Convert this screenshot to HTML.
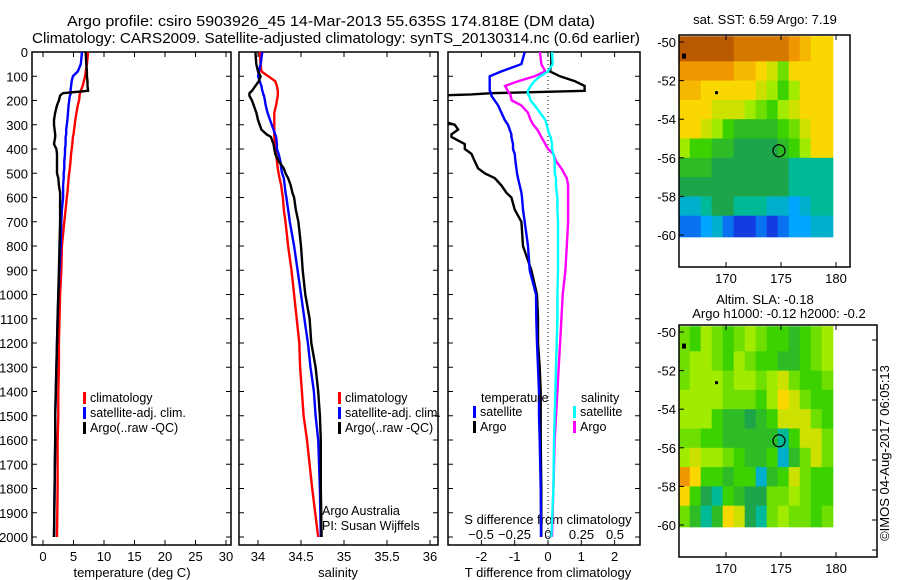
<!DOCTYPE html>
<html><head><meta charset="utf-8"><style>
body{margin:0;background:#fff}
svg{display:block;font-family:"Liberation Sans",sans-serif}
</style></head><body>
<svg id="chart" width="900" height="580" viewBox="0 0 900 580">
<rect width="900" height="580" fill="#fff"/>
<text x="67" y="26" font-size="15" textLength="528" lengthAdjust="spacingAndGlyphs">Argo profile: csiro 5903926_45 14-Mar-2013 55.635S 174.818E (DM data)</text>
<text x="32" y="43" font-size="15" textLength="608" lengthAdjust="spacingAndGlyphs">Climatology: CARS2009. Satellite-adjusted climatology: synTS_20130314.nc (0.6d earlier)</text>
<g id="g"></g>
</svg>
<script>
// ---------- data ----------
const depths=[0,50,80,100,120,140,160,170,175,180,200,220,250,280,300,320,340,350,380,400,420,450,480,500,520,550,580,600,650,700,800,900,1000,1100,1200,1300,1400,1500,1600,1800,2000];
const tempClim=[7.4,7.2,7.0,6.9,6.7,6.5,6.2,6.1,6.0,6.0,5.9,5.7,5.5,5.3,5.2,5.1,5.0,4.9,4.8,4.7,4.6,4.5,4.4,4.3,4.2,4.1,4.0,3.9,3.7,3.5,3.1,3.0,2.8,2.7,2.6,2.6,2.5,2.5,2.4,2.4,2.3];
const tempSat=[6.4,6.2,5.7,4.9,4.7,4.6,4.5,4.5,4.5,4.4,4.3,4.2,4.1,4.0,3.9,3.8,3.8,3.7,3.7,3.6,3.6,3.5,3.5,3.4,3.4,3.3,3.3,3.3,3.1,3.0,2.9,2.7,2.5,2.4,2.3,2.2,2.1,2.0,2.0,1.9,1.8];
const tempArgo=[7.0,7.1,7.2,7.2,7.3,7.3,7.4,3.3,3.0,2.8,2.6,2.3,2.0,1.8,1.8,1.9,2.0,2.0,1.8,2.2,2.3,2.3,2.3,2.3,2.5,2.6,2.8,2.8,2.8,2.8,2.7,2.6,2.5,2.4,2.3,2.2,2.1,2.0,2.0,1.9,1.8];
const salClim=[34.02,34.03,34.04,34.12,34.2,34.22,34.23,34.23,34.23,34.23,34.22,34.21,34.19,34.19,34.19,34.19,34.19,34.19,34.2,34.2,34.21,34.22,34.23,34.24,34.25,34.27,34.28,34.29,34.3,34.32,34.35,34.39,34.42,34.45,34.48,34.49,34.51,34.53,34.57,34.63,34.7];
const salSat=[34.05,34.03,34.01,34.0,34.02,34.04,34.05,34.06,34.06,34.07,34.08,34.09,34.11,34.14,34.16,34.18,34.2,34.21,34.22,34.22,34.24,34.26,34.27,34.28,34.3,34.31,34.32,34.33,34.35,34.37,34.42,34.46,34.5,34.54,34.58,34.61,34.65,34.67,34.7,34.72,34.73];
const salArgo=[33.97,33.98,34.0,34.03,34.01,33.97,33.93,33.9,33.9,33.9,33.93,33.95,33.98,34.0,34.02,34.04,34.1,34.15,34.18,34.19,34.2,34.24,34.3,34.32,34.35,34.38,34.4,34.42,34.44,34.47,34.5,34.52,34.55,34.6,34.62,34.67,34.7,34.72,34.73,34.73,34.74];
const dTSat=[-0.7,-0.8,-1.4,-1.75,-1.75,-1.75,-1.75,-1.7,-1.7,-1.7,-1.6,-1.5,-1.4,-1.3,-1.2,-1.15,-1.1,-1.1,-1.05,-1.05,-1.0,-0.98,-0.95,-0.93,-0.9,-0.85,-0.8,-0.78,-0.75,-0.7,-0.6,-0.55,-0.36,-0.35,-0.33,-0.3,-0.27,-0.27,-0.25,-0.22,-0.21];
const dTArgo=[0.1,0.1,0.06,0.36,0.8,1.1,1.1,-1.7,-2.3,-3.5,-3.5,-3.5,-3.5,-3.3,-2.8,-2.7,-2.9,-2.9,-2.5,-2.5,-2.3,-2.2,-2.1,-1.9,-1.6,-1.4,-1.25,-1.1,-1.0,-0.8,-0.75,-0.5,-0.33,-0.3,-0.3,-0.25,-0.22,-0.22,-0.22,-0.2,-0.2];
const dSSat=[0.03,0.035,0.0,-0.06,-0.1,-0.13,-0.15,-0.15,-0.15,-0.14,-0.13,-0.1,-0.06,-0.02,-0.01,0.0,0.01,0.02,0.03,0.03,0.04,0.05,0.05,0.05,0.06,0.06,0.065,0.07,0.07,0.075,0.075,0.075,0.07,0.07,0.065,0.06,0.055,0.05,0.045,0.04,0.025];
const dSArgo=[-0.06,-0.05,-0.02,-0.1,-0.22,-0.32,-0.3,-0.29,-0.28,-0.28,-0.27,-0.2,-0.15,-0.13,-0.11,-0.08,-0.06,-0.05,-0.02,0.0,0.04,0.06,0.1,0.12,0.14,0.15,0.15,0.15,0.15,0.15,0.14,0.13,0.11,0.1,0.09,0.08,0.07,0.06,0.05,0.04,0.03];
const depthTicks=[0,100,200,300,400,500,600,700,800,900,1000,1100,1200,1300,1400,1500,1600,1700,1800,1900,2000];
const tempTicks=[0,5,10,15,20,25,30];
const salTicks=[34,34.5,35,35.5,36];
const dTTicks=[-2,-1,0,1,2];
const dSTicks=[-0.5,-0.25,0,0.25,0.5];
const mapLons=[166,167,168,169,170,171,172,173,174,175,176,177,178,179];
const mapLats=[-50,-51,-52,-53,-54,-55,-56,-57,-58,-59];
const sstGrid=[
[9,9,9,9,9,8.5,8.5,8.5,8.5,8.5,8,7.5,7,7],
[8,8,8,8,8,7.5,7.5,7,6.5,5.5,7,7,7,7],
[7.5,7.5,7,7,7,7,7,6.5,6,5,6,7,7,7],
[7,7,7,6.5,6.5,6.5,6,5.5,5,6,6.5,7,7,7],
[7,7,6.5,6,5,4.5,4.5,4.5,4.5,5,5.5,6.5,7,7],
[6,5,5,4.5,4.5,4,4,4,4,4.5,5,6,7,7],
[4.5,4.5,4.5,4,4,4,4,4,4,4,3.5,3.5,3.5,3.5],
[4,4,4,4,4,4,4,4,4,4,3.5,3.5,3.5,3.5],
[3,3,3.5,4,4,3.5,3.5,3.5,3,3,2.5,3,3.5,3.5],
[2,2,2.5,3,2,1.5,1.5,2,1.5,2,2.5,2.5,3,3]];
const slaGrid=[
[5.5,5,6,5.5,5,5.5,6,5.5,5,5,4.5,5,5.5,6],
[5.5,6,6,5.5,5,6,5.5,5,5,4.5,4.5,5,5.5,6],
[5.5,6,6,6,5.5,6,6,5.5,6,6.5,5.5,5,5,5.5],
[6,6,6,6,5.5,5.5,5.5,5,6,7,6.5,5.5,5,5],
[6,6,6,5,4.5,4.5,4,4.5,5,6.5,6.5,6.5,5.5,5],
[5.5,5.5,5,5,4.5,4.5,4.5,4.5,4.5,3.5,5,6.5,6.5,5.5],
[6,6.5,6,6,5.5,5,4.5,4.5,5,3,4.5,5.5,6.5,5.5],
[8,7,5,5,4.5,5,5,3,4.5,5,6.5,5.5,5,5],
[7,5,4,3.5,5,4.5,4,4,5.5,5.5,6,5.5,5,5],
[5.5,4.5,3.5,4.5,7,6.5,4,3.5,5.5,6,5.5,5.5,5,5.5]];
const mapLatTicks=[-50,-52,-54,-56,-58,-60];
const mapLonTicks=[170,175,180];
const argoLon=174.818, argoLat=-55.635;

// ---------- drawing ----------
const NS="http://www.w3.org/2000/svg";
const G=document.getElementById('g');
function el(tag,attrs,parent){const e=document.createElementNS(NS,tag);for(const k in attrs)e.setAttribute(k,attrs[k]);(parent||G).appendChild(e);return e;}
function txt(s,attrs,parent){const e=el('text',attrs,parent);e.textContent=s;return e;}
const yD=d=>52+0.2425*d;
const TOP=52,BOT=545;
const panels=[
 {x0:32,x1:231,sx:v=>43+6.1*v,name:'temperature'},
 {x0:239,x1:438,sx:v=>258+86*(v-34),name:'salinity'},
 {x0:448,x1:640,sx:v=>548+33.3*v,name:'difference'}];
const sxS=v=>548+134*v;
panels.forEach((p,i)=>{
 const cp=el('clipPath',{id:'clip'+i});
 el('rect',{x:p.x0,y:TOP,width:p.x1-p.x0,height:BOT-TOP},cp);
 const fr=el('rect',{x:p.x0,y:TOP,width:p.x1-p.x0,height:BOT-TOP,fill:'none',stroke:'#000','stroke-width':1.5});
 
 
 depthTicks.forEach(d=>{
  el('line',{x1:p.x0,x2:p.x0+5,y1:yD(d),y2:yD(d),stroke:'#000'});
  el('line',{x1:p.x1,x2:p.x1-5,y1:yD(d),y2:yD(d),stroke:'#000'});
 });
});
depthTicks.forEach(d=>{
 const t=txt(String(d),{x:28,y:yD(d)+5,'font-size':13,'text-anchor':'end'});
 
 
});
function xticks(p,ticks,sx,ylab,fmt){
 ticks.forEach(v=>{
  const x=sx(v);
  el('line',{x1:x,x2:x,y1:BOT,y2:BOT-5,stroke:'#000'});
  el('line',{x1:x,x2:x,y1:TOP,y2:TOP+5,stroke:'#000'});
  const t=txt(fmt?fmt(v):String(v),{x:x,y:ylab,'font-size':13,'text-anchor':'middle'});
  
  
 });
}
xticks(panels[0],tempTicks,panels[0].sx,561);
xticks(panels[1],salTicks,panels[1].sx,561);
xticks(panels[2],dTTicks,panels[2].sx,561);
dSTicks.forEach(v=>{
 const t=txt(v<0?'\u2212'+Math.abs(v):String(v),{x:sxS(v),y:539,'font-size':13,'text-anchor':'middle'});
 
 
});
[['temperature (deg C)',132],['salinity',338],['T difference from climatology',548]].forEach(a=>{
 const t=txt(a[0],{x:a[1],y:577,'font-size':13,'text-anchor':'middle'});
 
 
});
const st=txt('S difference from climatology',{x:548,y:524,'font-size':13,'text-anchor':'middle'});


el('line',{x1:548,x2:548,y1:TOP,y2:BOT,stroke:'#000','stroke-dasharray':'1,3'});

function series(vals,sx,color,name,ci){
 const pts=depths.map((d,i)=>sx(vals[i]).toFixed(1)+','+yD(d).toFixed(1)).join(' ');
 const pl=el('polyline',{points:pts,fill:'none',stroke:color,'stroke-width':2.4,'clip-path':'url(#clip'+ci+')'});
 
 
}
series(tempClim,panels[0].sx,'#f00','temp-climatology-line',0);
series(tempSat,panels[0].sx,'#00f','temp-satellite-line',0);
series(tempArgo,panels[0].sx,'#000','temp-argo-line',0);
series(salClim,panels[1].sx,'#f00','sal-climatology-line',1);
series(salSat,panels[1].sx,'#00f','sal-satellite-line',1);
series(salArgo,panels[1].sx,'#000','sal-argo-line',1);
series(dTArgo,panels[2].sx,'#000','tdiff-argo-line',2);
series(dTSat,panels[2].sx,'#00f','tdiff-satellite-line',2);
series(dSArgo,sxS,'#f0f','sdiff-argo-line',2);
series(dSSat,sxS,'#0ff','sdiff-satellite-line',2);

function legend(x,y,items,pre){
 items.forEach((it,i)=>{
  el('rect',{x:x,y:y+i*15-10,width:3,height:12,fill:it[1]});
  const t=txt(it[0],{x:x+7,y:y+i*15,'font-size':12.5});
  
  
 });
}
const L=[['climatology','#f00'],['satellite-adj. clim.','#00f'],['Argo(..raw -QC)','#000']];
legend(83,402,L,'temp');
legend(338,402,L,'sal');
txt('temperature',{x:481,y:402,'font-size':12.5});
txt('salinity',{x:581,y:402,'font-size':12.5});
legend(473,416,[['satellite','#00f'],['Argo','#000']],'tdiff');
legend(573,416,[['satellite','#0ff'],['Argo','#f0f']],'sdiff');
txt('Argo Australia',{x:322,y:515,'font-size':12.5});
txt('PI: Susan Wijffels',{x:322,y:530,'font-size':12.5});

// ---------- maps ----------
const stops=[[0,[0,0,170]],[1.5,[20,60,225]],[2.5,[0,165,255]],[3.5,[0,185,150]],[4,[30,165,75]],[5,[60,210,0]],[6,[160,235,0]],[7,[250,215,0]],[8,[240,150,0]],[9,[185,90,0]],[10,[140,50,0]]];
function cmap(v){
 for(let i=0;i<stops.length-1;i++){const a=stops[i],b=stops[i+1];if(v<=b[0]){const t=(v-a[0])/(b[0]-a[0]);const c=a[1].map((q,k)=>Math.round(q+(b[1][k]-q)*t));return 'rgb('+c+')';}}
 return 'rgb('+stops[stops.length-1][1]+')';
}
const lonX=lon=>726+11*(lon-170);
const colW=(180-165.7)/14;
function drawMap(grid,latY,frame,name){
 grid.forEach((row,r)=>row.forEach((v,c)=>{
  const lonL=mapLons[c]-0.3;
  const x0=lonX(lonL),x1=lonX(lonL+colW);
  const y0=latY(mapLats[r]+(r==0?0.3:0)),y1=latY(mapLats[r]-(r==mapLats.length-1?1.1:1));
  const cell=el('rect',{x:x0,y:y0,width:x1-x0+0.4,height:y1-y0+0.4,fill:cmap(v)});
  
  
 }));
 const f=el('rect',{x:679,y:frame[0],width:frame[2]-679,height:frame[1]-frame[0],fill:'none',stroke:'#000','stroke-width':1.5});
 
 
 mapLatTicks.forEach(l=>{
  const y=latY(l);
  el('line',{x1:679,x2:684,y1:y,y2:y,stroke:'#000'});
  const t=txt(String(l),{x:676,y:y+5,'font-size':13,'text-anchor':'end'});
  
  
 });
 mapLonTicks.forEach(l=>{
  const x=lonX(l);
  el('line',{x1:x,x2:x,y1:frame[0],y2:frame[0]+5,stroke:'#000'});
  el('line',{x1:x,x2:x,y1:frame[1],y2:frame[1]-5,stroke:'#000'});
  const t=txt(String(l),{x:x,y:frame[1]+16,'font-size':13,'text-anchor':'middle'});
  
  
 });
 const c=el('circle',{cx:lonX(argoLon),cy:latY(argoLat),r:6,fill:'none',stroke:'#000','stroke-width':1.2});
 
 
 el('rect',{x:682,y:latY(-50.6),width:4,height:5,fill:'#000'});
 el('rect',{x:715,y:latY(-52.6)-1,width:3,height:3,fill:'#000'});
}
drawMap(sstGrid,l=>42-19.3*(l+50),[35,267,850],'sst-map');
drawMap(slaGrid,l=>332-19.3*(l+50),[325,557,877],'sla-map');
[340,370,400,430,460,490,520,550].forEach(y=>el('line',{x1:877,x2:872,y1:y,y2:y,stroke:'#000'}));
const t1=txt('sat. SST: 6.59 Argo: 7.19',{x:765,y:24,'font-size':13,'text-anchor':'middle'});

const t2=txt('Altim. SLA: -0.18',{x:765,y:304,'font-size':13,'text-anchor':'middle'});

const t3=txt('Argo h1000: -0.12 h2000: -0.2',{x:779,y:318,'font-size':13,'text-anchor':'middle'});

const t4=txt('\u00a9IMOS 04-Aug-2017 06:05:13',{x:0,y:0,'font-size':13,'text-anchor':'middle',transform:'translate(889,453) rotate(-90)'});

</script>
</body></html>
